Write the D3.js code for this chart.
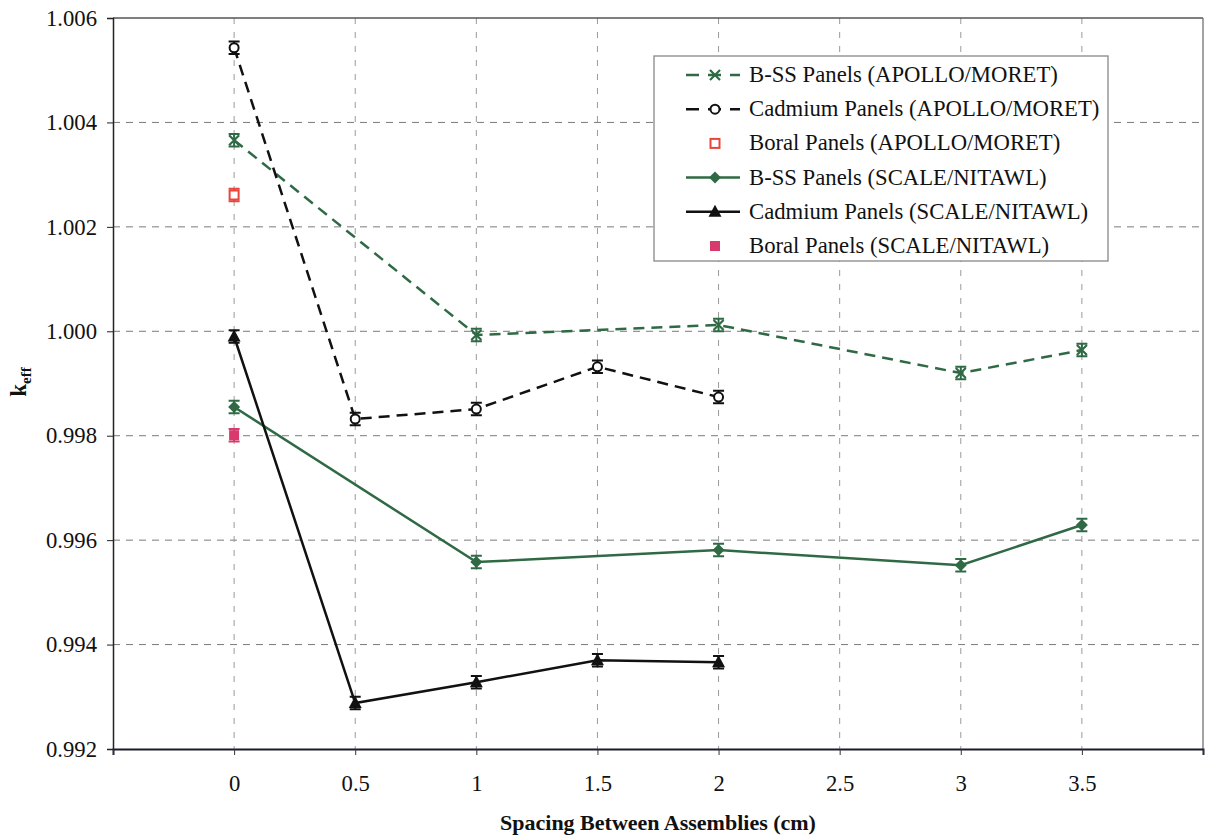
<!DOCTYPE html>
<html><head><meta charset="utf-8">
<script src="https://cdn.jsdelivr.net/npm/d3@7"></script>
<style>body{margin:0;background:#fff;} svg{display:block;} text{font-family:"Liberation Serif",Tinos,Times,"Times New Roman","DejaVu Serif",serif !important;}</style>
</head><body>
<svg id="c" width="1205" height="839"></svg>
<script>
const xTicks = [0, 0.5, 1, 1.5, 2, 2.5, 3, 3.5];
const yTicks = [0.992, 0.994, 0.996, 0.998, 1.000, 1.002, 1.004, 1.006];

const bssApolloX = [0, 1, 2, 3, 3.5];
const bssApolloY = [1.00366, 0.99993, 1.00012, 0.99920, 0.99964];
const cdApolloX = [0, 0.5, 1, 1.5, 2];
const cdApolloY = [1.00543, 0.99832, 0.99851, 0.99932, 0.99874];
const boralApolloX = [0];
const boralApolloY = [1.00261];
const bssScaleX = [0, 1, 2, 3, 3.5];
const bssScaleY = [0.99855, 0.99558, 0.99581, 0.99552, 0.99629];
const cdScaleX = [0, 0.5, 1, 1.5, 2];
const cdScaleY = [0.99990, 0.99288, 0.99328, 0.99370, 0.99366];
const boralScaleX = [0];
const boralScaleY = [0.99801];
const errBar = 0.00012;

const seriesNames = [
  "B-SS Panels (APOLLO/MORET)",
  "Cadmium Panels (APOLLO/MORET)",
  "Boral Panels (APOLLO/MORET)",
  "B-SS Panels (SCALE/NITAWL)",
  "Cadmium Panels (SCALE/NITAWL)",
  "Boral Panels (SCALE/NITAWL)"
];

const GREEN = "#2f6a45", BLACK = "#111", RED = "#e8463c", PINK = "#d93a6e";
const series = [
  {name: seriesNames[0], xs: bssApolloX, ys: bssApolloY, color: GREEN, dash: "11,7", marker: "x", line: true},
  {name: seriesNames[1], xs: cdApolloX, ys: cdApolloY, color: BLACK, dash: "11,7", marker: "circle", line: true},
  {name: seriesNames[2], xs: boralApolloX, ys: boralApolloY, color: RED, dash: null, marker: "squareOpen", line: false},
  {name: seriesNames[3], xs: bssScaleX, ys: bssScaleY, color: GREEN, dash: null, marker: "diamond", line: true},
  {name: seriesNames[4], xs: cdScaleX, ys: cdScaleY, color: BLACK, dash: null, marker: "triangle", line: true},
  {name: seriesNames[5], xs: boralScaleX, ys: boralScaleY, color: PINK, dash: null, marker: "squareFill", line: false}
];

const L = 113, R = 1203, T = 18, B = 749;
const x = d3.scaleLinear().domain([-0.5, 4]).range([L, R]);
const y = d3.scaleLinear().domain([0.992, 1.006]).range([B, T]);
const svg = d3.select("#c");

// gridlines
svg.append("g").selectAll("line").data(yTicks.slice(1, -1)).join("line")
  .attr("x1", L).attr("x2", R).attr("y1", d => y(d)).attr("y2", d => y(d))
  .attr("stroke", "#7a7a7a").attr("stroke-width", 1).attr("stroke-dasharray", "7,6");
svg.append("g").selectAll("line").data(xTicks).join("line")
  .attr("x1", d => x(d)).attr("x2", d => x(d)).attr("y1", T).attr("y2", B)
  .attr("stroke", "#9a9a9a").attr("stroke-width", 1).attr("stroke-dasharray", "6,8");

// frame top & right
svg.append("line").attr("x1", L).attr("x2", R).attr("y1", T).attr("y2", T).attr("stroke", "#555").attr("stroke-width", 1.5);
svg.append("line").attr("x1", R).attr("x2", R).attr("y1", T).attr("y2", B).attr("stroke", "#666").attr("stroke-width", 1.2);

// axes
const yAxis = d3.axisLeft(y).tickValues(yTicks).tickFormat(d3.format(".3f")).tickSize(6).tickPadding(10);
const gy = svg.append("g").attr("transform", `translate(${L},0)`).call(yAxis);
gy.attr("font-family", null);
gy.select(".domain").attr("stroke", "#222").attr("stroke-width", 1.5);
gy.selectAll(".tick line").attr("stroke", "#222");
gy.selectAll("text").style("font-size", "22.7px").attr("fill", "#111");

const xAxis = d3.axisBottom(x).tickValues([-0.5, ...xTicks, 4]).tickFormat(d => (d < 0 || d > 3.5) ? "" : d3.format("")(d)).tickSize(6).tickPadding(20);
const gx = svg.append("g").attr("transform", `translate(0,${B})`).call(xAxis);
gx.attr("font-family", null);
gx.select(".domain").attr("stroke", "#1a1a2a").attr("stroke-width", 2);
gx.selectAll(".tick line").attr("stroke", "#333");
gx.selectAll("text").style("font-size", "22.7px").attr("fill", "#111");

// axis titles
svg.append("text").attr("x", 658).attr("y", 830).attr("text-anchor", "middle")
  .style("font-weight", "bold").style("font-size", "22px").attr("fill", "#111")
  .text("Spacing Between Assemblies (cm)");
const yt = svg.append("text").attr("transform", "translate(26,382) rotate(-90)").attr("text-anchor", "middle")
  .style("font-weight", "bold").style("font-size", "23px").attr("fill", "#111");
yt.append("tspan").text("k");
yt.append("tspan").style("font-size", "15px").attr("dy", 5).text("eff");

function drawMarker(g, type, color, cx, cy) {
  if (type === "x") {
    g.append("path").attr("d", `M${cx-5},${cy-5}L${cx+5},${cy+5}M${cx-5},${cy+5}L${cx+5},${cy-5}`)
      .attr("stroke", color).attr("stroke-width", 2.2).attr("fill", "none");
  } else if (type === "circle") {
    g.append("circle").attr("cx", cx).attr("cy", cy).attr("r", 4.5).attr("fill", "#fff").attr("stroke", color).attr("stroke-width", 2);
  } else if (type === "squareOpen") {
    g.append("rect").attr("x", cx-4.5).attr("y", cy-4.5).attr("width", 9).attr("height", 9).attr("fill", "#fff").attr("stroke", color).attr("stroke-width", 2);
  } else if (type === "squareFill") {
    g.append("rect").attr("x", cx-5).attr("y", cy-5).attr("width", 10).attr("height", 10).attr("fill", color);
  } else if (type === "diamond") {
    g.append("path").attr("d", `M${cx},${cy-6}L${cx+6},${cy}L${cx},${cy+6}L${cx-6},${cy}Z`).attr("fill", color);
  } else if (type === "triangle") {
    g.append("path").attr("d", `M${cx},${cy-7}L${cx+6.5},${cy+5}L${cx-6.5},${cy+5}Z`).attr("fill", color);
  }
}

series.forEach(s => {
  const g = svg.append("g");
  const pts = s.xs.map((v, i) => [v, s.ys[i]]);
  if (s.line) {
    g.append("path").datum(pts).attr("fill", "none").attr("stroke", s.color).attr("stroke-width", 2.5)
      .attr("stroke-dasharray", s.dash).attr("d", d3.line().x(d => x(d[0])).y(d => y(d[1])));
  }
  pts.forEach(p => {
    const cx = x(p[0]), y1 = y(p[1] + errBar), y2 = y(p[1] - errBar);
    g.append("path").attr("d", `M${cx},${y1}L${cx},${y2}M${cx-5.5},${y1}L${cx+5.5},${y1}M${cx-5.5},${y2}L${cx+5.5},${y2}`)
      .attr("stroke", s.color).attr("stroke-width", 2).attr("fill", "none");
    drawMarker(g, s.marker, s.color, cx, y(p[1]));
  });
});

// legend
const lg = svg.append("g");
lg.append("rect").attr("x", 654).attr("y", 56).attr("width", 454).attr("height", 205)
  .attr("fill", "#fff").attr("stroke", "#888").attr("stroke-width", 1.3);
series.forEach((s, i) => {
  const cy = 75 + i * 34.2;
  if (s.line) {
    lg.append("line").attr("x1", 686).attr("x2", 740).attr("y1", cy).attr("y2", cy)
      .attr("stroke", s.color).attr("stroke-width", 2.5).attr("stroke-dasharray", s.dash ? "13,9" : null);
  }
  drawMarker(lg, s.marker, s.color, 715, cy);
  lg.append("text").attr("x", 749).attr("y", cy + 7).style("font-size", "22.7px")
    .attr("fill", "#111").text(s.name);
});
</script>
</body></html>
